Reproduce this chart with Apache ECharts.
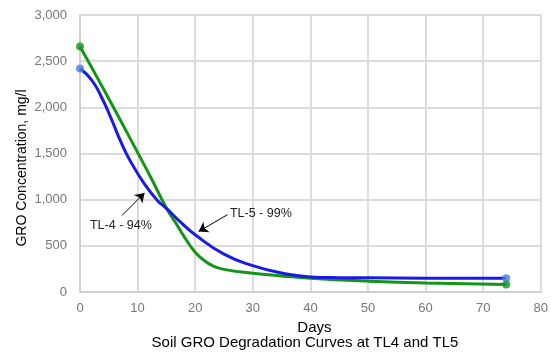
<!DOCTYPE html>
<html><head><meta charset="utf-8">
<script src="https://cdn.jsdelivr.net/npm/echarts@6/dist/echarts.min.js"></script>
<style>html,body{margin:0;padding:0;background:#fff}#c{width:551px;height:357px}</style>
</head><body><div id="c"></div>
<script>
const tl4Curve = [[0,2420],[2,2297],[3.7,2115],[5.4,1880],[7.1,1625],[8.85,1405],[11.15,1174],[13.4,995],[15,905],[17.5,755],[20,620],[25,410],[30,285],[35,205],[40,163],[45,155],[50,153],[60,150],[74,150]];
const tl5Curve = [[0,2660],[4.25,2180],[8.3,1710],[12.3,1240],[15,910],[17,710],[18.5,560],[20,430],[21.5,345],[23,285],[25,245],[30,203],[35,174],[40,149],[50,118],[60,97],[74,80]];
const tl4Points = [[0,2420],[74,150]];
const tl5Points = [[0,2660],[74,80]];
const tl4Note = {text:'TL-4 - 94%', at:[7.1,717], from:[7.3,829], to:[11.2,1073]};
const tl5Note = {text:'TL-5 - 99%', at:[31.4,848], from:[25.6,837], to:[20.6,655]};
const xTicks = {min:0, max:80, interval:10};
const yTicks = {min:0, max:3000, interval:500};
const yTitle = 'GRO Concentration, mg/l';
const chartTitle = 'Soil GRO Degradation Curves at TL4 and TL5';

const chart = echarts.init(document.getElementById('c'), null, {renderer:'canvas'});
const font = 'Liberation Sans, Arial, sans-serif';
function note(n){
  return {
    markLine:{silent:true, symbol:['none','arrow'], symbolSize:9, lineStyle:{color:'#000',width:1,type:'solid'}, label:{show:false},
      emphasis:{disabled:true},
      data:[[{coord:n.from},{coord:n.to}]]},
    markPoint:{silent:true, symbol:'circle', symbolSize:1, itemStyle:{color:'rgba(0,0,0,0)'},
      data:[{coord:n.at, label:{show:true, formatter:n.text, color:'#222', fontSize:12.5, fontFamily:font, position:'inside'}}]}
  };
}
chart.setOption({
  animation:false,
  grid:{left:80, right:7, top:15, bottom:65, containLabel:false},
  xAxis:{type:'value', min:xTicks.min, max:xTicks.max, interval:xTicks.interval,
    name:'Days', nameLocation:'middle', nameGap:21, nameTextStyle:{color:'#000', fontSize:15, fontFamily:font, padding:[0,0,0,8]},
    axisLine:{show:true, lineStyle:{color:'#cfcfcf', width:2}}, axisTick:{show:false},
    axisLabel:{color:'#777', fontSize:13, fontFamily:font, margin:10},
    splitLine:{show:true, lineStyle:{color:'#dcdcdc', width:2}}},
  yAxis:{type:'value', min:yTicks.min, max:yTicks.max, interval:yTicks.interval,
    axisLine:{show:true, lineStyle:{color:'#cfcfcf', width:2}}, axisTick:{show:false},
    axisLabel:{color:'#777', fontSize:13, fontFamily:font, margin:13, formatter:v=>v.toLocaleString('en-US')},
    splitLine:{show:true, lineStyle:{color:'#dcdcdc', width:2}}},
  title:{text:chartTitle, left:300, top:330, textAlign:'center',
    textStyle:{color:'#000', fontSize:15, fontWeight:'normal', fontFamily:font}},
  graphic:[{type:'text', x:22, y:168, rotation:Math.PI/2, style:{text:yTitle, fill:'#000', font:'14px '+font, align:'center', verticalAlign:'middle'}}],
  series:[
    Object.assign({type:'line', name:'TL-4', data:tl4Curve, smooth:0.5, showSymbol:false, z:3,
      lineStyle:{color:'#1a1ae6', width:3}}, note(tl4Note)),
    Object.assign({type:'line', name:'TL-5', data:tl5Curve, smooth:0.5, showSymbol:false, z:2,
      lineStyle:{color:'#13951a', width:3}}, note(tl5Note)),
    {type:'scatter', data:tl4Points, symbolSize:8, itemStyle:{color:'#4a7fe3'}, z:4},
    {type:'scatter', data:tl5Points, symbolSize:8, itemStyle:{color:'#13951a'}, z:4}
  ]
});
</script></body></html>
